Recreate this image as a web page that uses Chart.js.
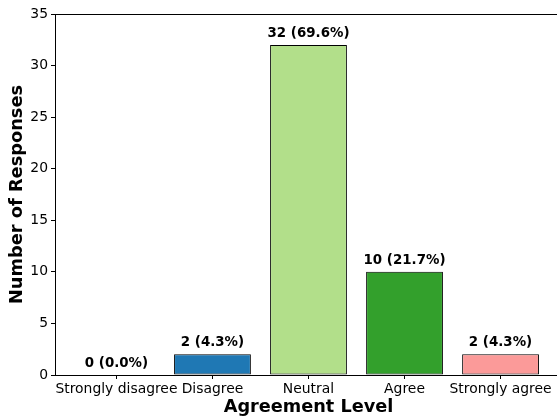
<!DOCTYPE html>
<html>
<head>
<meta charset="utf-8">
<script src="https://cdn.jsdelivr.net/npm/chart.js@4.4.1/dist/chart.umd.min.js"></script>
<style>
  html, body { margin: 0; padding: 0; background: #fff; overflow: hidden; }
  #wrap { width: 562px; height: 419px; position: relative; }
</style>
</head>
<body>
<div id="wrap"><canvas id="barChart"></canvas></div>
<script>
// --- data ---
const categories = ['Strongly disagree', 'Disagree', 'Neutral', 'Agree', 'Strongly agree'];
const counts = [0, 2, 32, 10, 2];
const barColors = ['#a6cee3', '#1f78b4', '#b2df8a', '#33a02c', '#fb9a99'];
const yTicks = [0, 5, 10, 15, 20, 25, 30, 35];
const total = counts.reduce((a, b) => a + b, 0);

Chart.defaults.font.family = "'DejaVu Sans', sans-serif";
Chart.defaults.color = '#000';

// value labels above bars
const valueLabels = {
    id: 'valueLabels',
    afterDatasetsDraw(chart) {
        const c = chart.ctx;
        const meta = chart.getDatasetMeta(0);
        c.save();
        c.font = 'bold 13.4px "DejaVu Sans"';
        c.fillStyle = '#000';
        c.textAlign = 'center';
        c.textBaseline = 'alphabetic';
        meta.data.forEach((bar, i) => {
            const pct = (counts[i] / total * 100).toFixed(1);
            c.fillText(`${counts[i]} (${pct}%)`, bar.x, bar.y - 8);
        });
        c.restore();
    }
};

// top spine (matplotlib frame)
const topSpine = {
    id: 'topSpine',
    afterDraw(chart) {
        const a = chart.chartArea; const c = chart.ctx;
        c.save();
        c.strokeStyle = '#000'; c.lineWidth = 1;
        c.beginPath();
        c.moveTo(a.left, Math.round(a.top) + 0.5);
        c.lineTo(a.right, Math.round(a.top) + 0.5);
        c.stroke();
        c.restore();
    }
};

const ctx = document.getElementById('barChart').getContext('2d');
new Chart(ctx, {
    type: 'bar',
    data: {
        datasets: [{
            data: categories.map((c, i) => ({ x: i, y: counts[i] })),
            backgroundColor: barColors,
            borderColor: '#000',
            borderWidth: 1,
            borderSkipped: false,
            categoryPercentage: 0.8,
            barPercentage: 1.0
        }]
    },
    options: {
        responsive: true,
        maintainAspectRatio: false,
        animation: false,
        layout: { padding: { top: 14, right: 0, left: 0, bottom: 0 } },
        plugins: { legend: { display: false }, tooltip: { enabled: false } },
        scales: {
            x: {
                type: 'linear',
                min: -0.64, max: 4.64,
                offset: false,
                afterBuildTicks: s => { s.ticks = categories.map((c, i) => ({ value: i })); },
                afterFit: s => { s.height = 44; },
                ticks: {
                    callback: v => categories[v],
                    autoSkip: false, maxRotation: 0, minRotation: 0,
                    padding: 2,
                    font: { size: 13.9 }, color: '#000'
                },
                grid: { offset: false, drawOnChartArea: false, drawTicks: true, tickLength: 4, color: '#000' },
                border: { color: '#000', width: 1 },
                title: {
                    display: true, text: 'Agreement Level',
                    font: { size: 17.7, weight: 'bold' }, color: '#000',
                    padding: { top: 0, bottom: 1.4 }
                }
            },
            y: {
                min: 0, max: 35,
                afterBuildTicks: s => { s.ticks = yTicks.map(v => ({ value: v })); },
                afterFit: s => { s.width = 55; },
                ticks: { padding: 3, font: { size: 13.9 }, color: '#000' },
                grid: { drawOnChartArea: false, drawTicks: true, tickLength: 4, color: '#000' },
                border: { color: '#000', width: 1 },
                title: {
                    display: true, text: 'Number of Responses',
                    font: { size: 17.8, weight: 'bold' }, color: '#000',
                    padding: { top: 7, bottom: 0 }
                }
            }
        }
    },
    plugins: [valueLabels, topSpine]
});
</script>
</body>
</html>
